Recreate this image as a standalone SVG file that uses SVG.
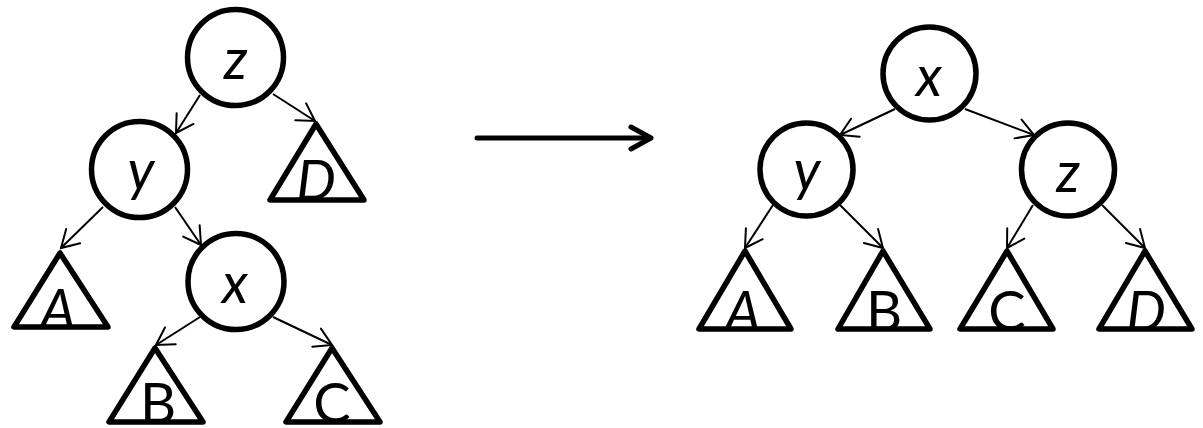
<svg xmlns="http://www.w3.org/2000/svg" width="1203" height="428" viewBox="0 0 1203 428">
  <style>
    .node { fill: #fff; stroke: #000; stroke-width: 5.5; }
    .tree { fill: none; stroke: #000; stroke-width: 5.5; stroke-linejoin: round; }
    .edge { fill: none; stroke: #000; stroke-width: 2; }
    .lbl { font-family: Lato, "Open Sans", "Liberation Sans", sans-serif; font-size: 56px; text-anchor: middle; fill: #000; }
    .it { font-style: italic; }
  </style>
  <defs>
    <marker id="head" markerUnits="userSpaceOnUse" markerWidth="40" markerHeight="40" viewBox="-20 -20 40 40" refX="0" refY="0" orient="auto">
      <path d="M-17,-10 L0,0 L-17,10" fill="none" stroke="#000" stroke-width="2" stroke-linecap="round"/>
    </marker>
  </defs>

  <!-- connectors -->
  <g id="edges" class="edge" marker-end="url(#head)">
    <!-- left tree -->
    <line x1="200" y1="95" x2="176" y2="133"/>
    <line x1="273" y1="94" x2="315" y2="121"/>
    <line x1="103" y1="207" x2="61" y2="248"/>
    <line x1="175" y1="207" x2="201" y2="245"/>
    <line x1="200" y1="317" x2="156" y2="345"/>
    <line x1="273" y1="317" x2="332" y2="345"/>
    <!-- right tree -->
    <line x1="895" y1="109" x2="840" y2="135"/>
    <line x1="965" y1="109" x2="1034" y2="135"/>
    <line x1="773" y1="205" x2="745" y2="248"/>
    <line x1="840" y1="205" x2="883" y2="248"/>
    <line x1="1033" y1="205" x2="1007" y2="248"/>
    <line x1="1102" y1="205" x2="1145" y2="248"/>
  </g>

  <!-- rotation arrow -->
  <g id="rotation" fill="none" stroke="#000" stroke-width="5" stroke-linecap="round" stroke-linejoin="round">
    <line x1="477" y1="138" x2="650" y2="138"/>
    <polyline points="631,127 651,138 631,149"/>
  </g>

  <!-- left tree nodes -->
  <g id="L-z"><circle class="node" cx="235.5" cy="57.5" r="48"/><text class="lbl it" x="235.5" y="79">z</text></g>
  <g id="L-y"><circle class="node" cx="139.5" cy="169.5" r="48"/><text class="lbl it" x="141" y="190">y</text></g>
  <g id="L-x"><circle class="node" cx="236" cy="281.5" r="48"/><text class="lbl it" x="235" y="303">x</text></g>
  <g id="L-D"><polygon class="tree" points="316,124 270,200 364,200"/><text class="lbl it" x="316" y="200">D</text></g>
  <g id="L-A"><polygon class="tree" points="60,253 14,327 108,327"/><text class="lbl it" x="58" y="329">A</text></g>
  <g id="L-B"><polygon class="tree" points="155,348 109,422 203,422"/><text class="lbl" x="158" y="423">B</text></g>
  <g id="L-C"><polygon class="tree" points="332,348 286,422 380,422"/><text class="lbl" x="332" y="423">C</text></g>

  <!-- right tree nodes -->
  <g id="R-x"><circle class="node" cx="929.5" cy="73.5" r="46.5"/><text class="lbl it" x="929" y="96">x</text></g>
  <g id="R-y"><circle class="node" cx="806.5" cy="169.5" r="46.5"/><text class="lbl it" x="807" y="190">y</text></g>
  <g id="R-z"><circle class="node" cx="1068" cy="169.5" r="46.5"/><text class="lbl it" x="1068" y="192">z</text></g>
  <g id="R-A"><polygon class="tree" points="745,251 699,329 791,329"/><text class="lbl it" x="743" y="331">A</text></g>
  <g id="R-B"><polygon class="tree" points="883,251 838,329 930,329"/><text class="lbl" x="884" y="331">B</text></g>
  <g id="R-C"><polygon class="tree" points="1007,251 960,329 1053,329"/><text class="lbl" x="1007" y="331">C</text></g>
  <g id="R-D"><polygon class="tree" points="1145,251 1099,329 1192,329"/><text class="lbl it" x="1146" y="331">D</text></g>
</svg>
